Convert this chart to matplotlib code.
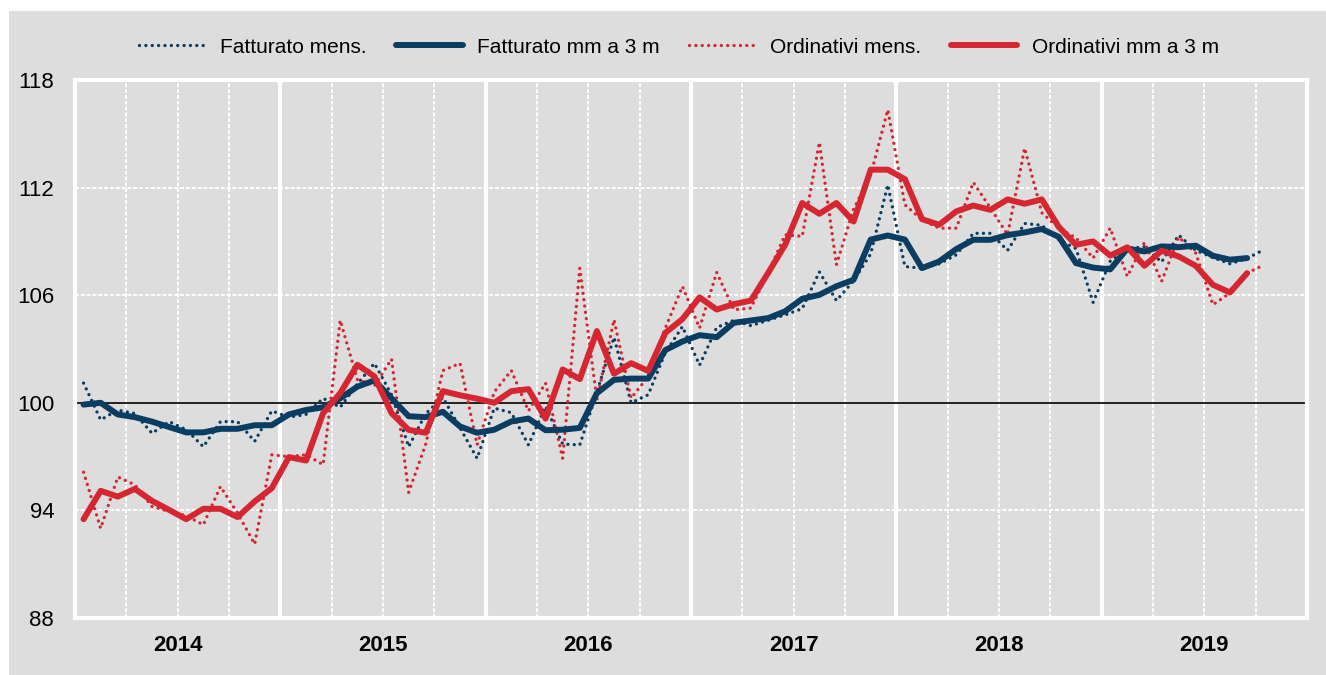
import numpy as np
import matplotlib
matplotlib.use("Agg")
import matplotlib.pyplot as plt
from matplotlib.patches import Rectangle

plt.rcParams['font.family'] = ['Liberation Sans', 'DejaVu Sans']

# monthly indices, Jan 2014 = 0
years = [2014, 2015, 2016, 2017, 2018, 2019]
yticks = [88, 94, 100, 106, 112, 118]

fatt_mens = [101.1, 99.05, 99.6, 99.4, 98.3, 98.95, 98.5, 97.55, 98.95, 98.95, 97.85, 99.55,
             99.2, 99.35, 100.25, 99.75, 101.05, 102.2, 100.45, 97.55, 99.4, 100.3, 98.6, 96.9,
             99.7, 99.45, 97.65, 99.8, 97.7, 97.65, 100.6, 103.65, 100.0, 100.45, 102.8, 104.25,
             102.1, 104.2, 104.6, 104.3, 104.6, 104.9, 105.25, 107.3, 105.7, 106.8, 108.3, 112.15,
             107.6, 107.5, 107.75, 108.25, 109.45, 109.45, 108.5, 110.0, 109.9, 109.1, 108.6, 105.6,
             107.9, 108.6, 108.7, 107.85, 109.35, 108.5, 108.1, 107.75, 108.05, 108.55]

fatt_mm = [99.9, 100.0, 99.35, 99.2, 98.95, 98.65, 98.35, 98.35, 98.55, 98.55, 98.75, 98.75,
           99.35, 99.6, 99.75, 100.25, 100.9, 101.25, 100.25, 99.25, 99.2, 99.5, 98.68, 98.33,
           98.5, 98.96, 99.12, 98.47, 98.5, 98.6, 100.54, 101.28, 101.35, 101.35, 102.94, 103.42,
           103.77, 103.66, 104.46, 104.59, 104.72, 105.1, 105.8, 106.02, 106.5, 106.86, 109.1, 109.33,
           109.1, 107.51, 107.88, 108.57, 109.09, 109.09, 109.35, 109.5, 109.69, 109.25, 107.79, 107.54,
           107.44, 108.6, 108.44, 108.72, 108.68, 108.76, 108.2, 107.98, 108.07]

ord_mens = [96.13, 93.0, 95.86, 95.43, 94.22, 93.94, 93.7, 93.2, 95.33, 93.85, 92.12, 97.1,
            97.0, 97.1, 96.55, 104.6, 101.3, 100.95, 102.44, 95.0, 97.7, 101.8, 102.2, 97.66,
            100.6, 101.8, 99.55, 101.1, 96.9, 107.5, 100.17, 104.63, 100.26, 101.47, 104.17, 106.49,
            104.17, 107.27, 105.19, 105.28, 107.23, 109.37, 109.28, 114.52, 107.7, 110.8, 112.7, 116.34,
            111.04, 110.2, 109.74, 109.74, 112.29, 110.86, 109.37, 114.2, 110.6, 109.74, 109.19, 108.07,
            109.74, 107.05, 108.94, 106.77, 109.24, 108.35, 105.47, 106.12, 107.23, 107.7]

ord_mm = [93.51, 95.09, 94.77, 95.2, 94.53, 94.03, 93.51, 94.09, 94.09, 93.63, 94.5, 95.24,
          96.97, 96.78, 99.42, 100.54, 102.12, 101.47, 99.42, 98.49, 98.33, 100.65, 100.42, 100.23,
          100.0, 100.65, 100.76, 99.12, 101.86, 101.32, 104.0, 101.62, 102.21, 101.78, 103.9, 104.67,
          105.88, 105.2, 105.5, 105.7, 107.23, 108.81, 111.14, 110.54, 111.14, 110.11, 113.0, 113.0,
          112.47, 110.24, 109.93, 110.67, 111.0, 110.76, 111.34, 111.1, 111.34, 109.8, 108.81, 109.0,
          108.21, 108.67, 107.64, 108.48, 108.16, 107.64, 106.58, 106.15, 107.23]

navy = '#0a3d62'
red = '#d62631'
bg = '#dddddd'

fig = plt.figure(figsize=(13.26, 6.75), dpi=100, facecolor='white')
fig.add_artist(Rectangle((9 / 1326, 0), 1, 1 - 11 / 675, transform=fig.transFigure,
                         facecolor=bg, edgecolor='none', zorder=-10))
ax = fig.add_axes([75 / 1326, 1 - 618 / 675, (1307 - 75) / 1326, (618 - 80) / 675])
ax.set_facecolor(bg)

n_months = 12 * len(years)
ax.set_xlim(-0.5, n_months - 0.5)
ax.set_ylim(yticks[0], yticks[-1])

# grid
for q in np.arange(2.5, n_months - 1, 3):
    if (q + 0.5) % 12 == 0:
        ax.axvline(q, color='white', lw=3, zorder=0.5)
    else:
        ax.axvline(q, color='white', lw=1.4, ls=(0, (2, 1)), zorder=0.5)
for yv in yticks[1:-1]:
    if yv == 100:
        ax.axhline(yv, color='black', lw=1.2, zorder=1.5)
    else:
        ax.axhline(yv, color='white', lw=1.4, ls=(0, (2, 1)), zorder=0.5)

dot = (0, (0.01, 1.9))
ax.plot(np.arange(len(fatt_mens)), fatt_mens, color=navy, lw=2.4, ls=dot,
        dash_capstyle='round', label='Fatturato mens.', zorder=3)
ax.plot(np.arange(len(fatt_mm)), fatt_mm, color=navy, lw=4.3,
        solid_capstyle='round', solid_joinstyle='round', label='Fatturato mm a 3 m', zorder=4)
ax.plot(np.arange(len(ord_mens)), ord_mens, color=red, lw=2.4, ls=dot,
        dash_capstyle='round', label='Ordinativi mens.', zorder=3)
ax.plot(np.arange(len(ord_mm)), ord_mm, color=red, lw=4.3,
        solid_capstyle='round', solid_joinstyle='round', label='Ordinativi mm a 3 m', zorder=5)

for s in ax.spines.values():
    s.set_color('white')
    s.set_linewidth(3)

ax.set_yticks(yticks)
ax.set_yticklabels([str(v) for v in yticks], fontsize=16)
ax.tick_params(axis='y', length=0, pad=15)
ax.set_xticks([12 * k + 5.5 for k in range(len(years))])
ax.set_xticklabels([str(y) for y in years], fontsize=16, fontweight='bold')
ax.tick_params(axis='x', length=0, pad=12)

fig.legend(loc='center', bbox_to_anchor=(0.512, 0.930), ncol=4, frameon=False,
           fontsize=15, handlelength=3.2, handletextpad=0.7, columnspacing=1.4)

fig.savefig('out.png', dpi=100, facecolor='white')
